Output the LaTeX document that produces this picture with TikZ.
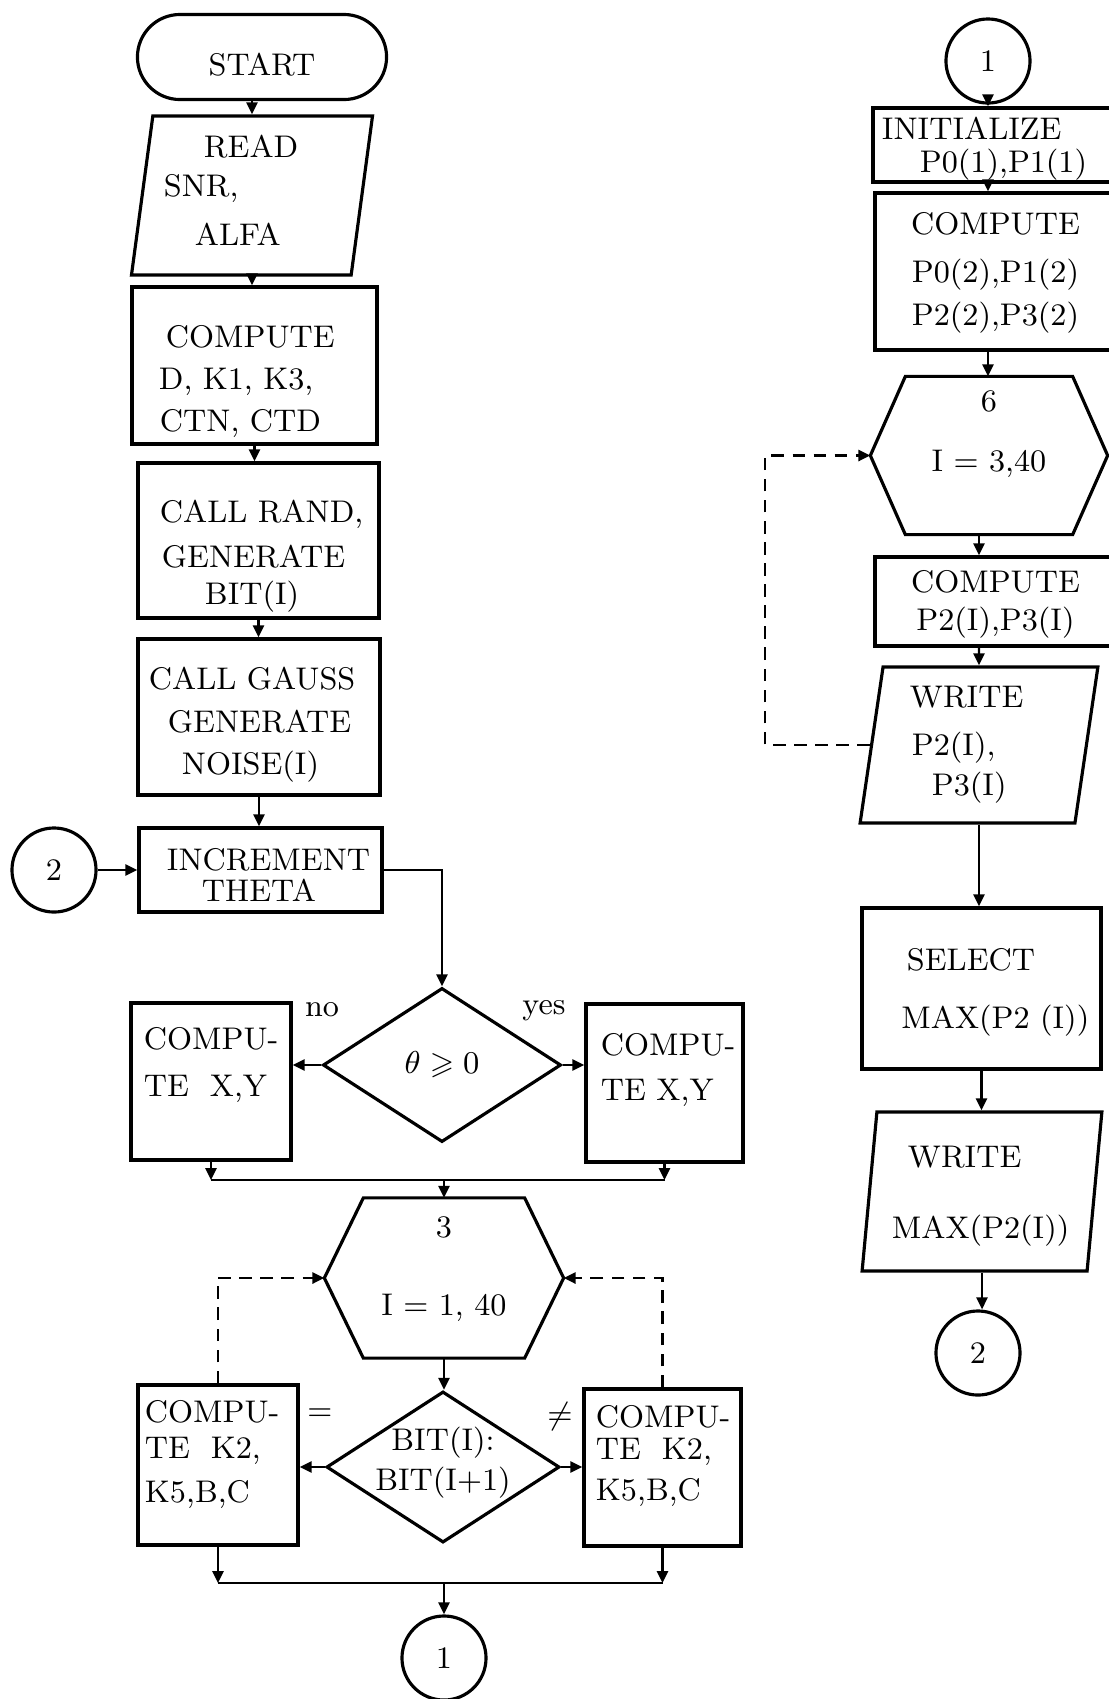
\documentclass[tikz,border=0pt]{standalone}
\usepackage{amssymb}
\usepackage{fontspec}
\usetikzlibrary{arrows.meta, positioning, shapes.geometric, shapes.misc, calc}

\tikzset{
  frame/.style={line width=0.9pt},
  box/.style={frame, draw, rectangle, inner sep=0pt, font=\fontsize{8.9}{12}\selectfont},
  term/.style={box, rounded rectangle},
  iobox/.style={box, trapezium, trapezium left angle=75.5, trapezium right angle=104.5, trapezium stretches=true},
  loopbox/.style={box, draw=none},
  decide/.style={box, diamond, shape aspect=1.54},
  conn/.style={box, circle, minimum size=0.84cm},
  lbl/.style={inner sep=0pt, font=\fontsize{8.9}{12}\selectfont},
  lift/.style={text height=0pt, text depth=#1},
  drop/.style={text depth=0pt, text height=#1},
  line/.style={line width=0.7pt},
  arr/.style={line width=0.7pt, -{Triangle[length=1.2mm,width=1.1mm]}},
  loopline/.style={line width=0.8pt, dash pattern=on 3.6pt off 2.4pt, -{Triangle[length=1.2mm,width=1.1mm]}}
}

% hexagonal loop symbol drawn round a plain node
\newcommand{\hexframe}[2]{%
  \draw[frame] ($(#1.north west)+(#2,0)$) -- ($(#1.north east)+(-#2,0)$) -- (#1.east)
    -- ($(#1.south east)+(-#2,0)$) -- ($(#1.south west)+(#2,0)$) -- (#1.west) -- cycle;}

\begin{document}
\begin{tikzpicture}[x=0.01cm, y=-0.01cm]
    \useasboundingbox (0,0) rectangle (1108,1699);

    % --- Left column: set-up ---
    \node[term, minimum width=2.49cm, minimum height=0.85cm, drop=0.36cm] (start) at (262,57) {START};
    \node[iobox, minimum width=2.42cm, minimum height=1.59cm, text width=1.8cm, align=left, lift=0.75cm] (readin) at (252,195.5)
        {\hspace*{0.42cm}READ\\[-1pt]\hspace*{0.02cm}SNR,\\[2pt]\hspace*{0.33cm}ALFA};
    \node[box, minimum width=2.45cm, minimum height=1.57cm, text width=2.3cm, align=left, lift=0.37cm] (setup) at (254.5,365.5)
        {\hspace*{0.265cm}COMPUTE\\\hspace*{0.195cm}D, K1, K3,\\\hspace*{0.205cm}CTN, CTD};
    \node[box, minimum width=2.41cm, minimum height=1.55cm, text width=2.2cm, align=left, lift=0.37cm] (randbit) at (258.5,540.5)
        {\hspace*{0.115cm}CALL RAND,\\[1pt]\hspace*{0.135cm}GENERATE\\[-1.5pt]\hspace*{0.565cm}BIT(I)};
    \node[box, minimum width=2.42cm, minimum height=1.56cm, text width=2.2cm, align=left, lift=0.54cm] (noise) at (259,717)
        {CALL GAUSS\\\hspace*{0.19cm}GENERATE\\\hspace*{0.33cm}NOISE(I)};
    \node[box, minimum width=2.43cm, minimum height=0.84cm, text width=2.2cm, align=left, lift=0pt] (incr) at (260.5,870)
        {\hspace*{0.165cm}INCREMENT\\[-3pt]\hspace*{0.515cm}THETA};
    \node[conn] (in2) at (54,870) {2};

    % --- Sign of theta ---
    \node[decide, minimum width=2.38cm, minimum height=1.54cm] (test1) at (442,1065) {$\theta \geqslant 0$};
    \node[box, minimum width=1.60cm, minimum height=1.57cm, text width=1.5cm, align=left, lift=0.63cm] (xyneg) at (211,1081.5)
        {\hspace*{0.08cm}COMPU-\\[1.3pt]\hspace*{0.08cm}TE~~X,Y};
    \node[box, minimum width=1.57cm, minimum height=1.58cm, text width=1.5cm, align=left, lift=0.56cm] (xypos) at (664.5,1083)
        {\hspace*{0.115cm}COMPU-\\[1pt]\hspace*{0.115cm}TE X,Y};
    \node[lbl] (no) at (322,1010) {no};
    \node[lbl] (yes) at (544,1011) {yes};
    \coordinate (join1) at (444,1180);

    % --- Loop 3 ---
    \node[loopbox, minimum width=2.36cm, minimum height=1.57cm, text width=2cm, align=center, lift=0.8cm] (loopa) at (444,1278)
        {3\\[10pt]I = 1, 40};
    \hexframe{loopa}{39}
    \node[decide, minimum width=2.33cm, minimum height=1.51cm, text width=1.4cm, align=center, lift=0.34cm] (test2) at (443,1467)
        {BIT(I):\\[-0.6pt]BIT(I+1)};
    \node[box, minimum width=1.60cm, minimum height=1.60cm, text width=1.5cm, align=left, lift=0.84cm] (kequal) at (218,1465)
        {\hspace*{0.02cm}COMPU-\\[-2pt]\hspace*{0.02cm}TE~~K2,\\[0.5pt]\hspace*{0.02cm}K5,B,C};
    \node[box, minimum width=1.57cm, minimum height=1.57cm, text width=1.5cm, align=left, lift=0.79cm] (kdiff) at (662.5,1467.5)
        {\hspace*{0.085cm}COMPU-\\[-3pt]\hspace*{0.085cm}TE~~K2,\\[-0.5pt]\hspace*{0.085cm}K5,B,C};
    \node[lbl] (eq) at (320,1415) {=};
    \node[lbl] (ne) at (560,1417) {$\neq$};
    \coordinate (join2) at (444,1583);
    \node[conn] (out1) at (444,1658) {1};

    % --- Right column ---
    \node[conn] (in1) at (988,61) {1};
    \node[box, minimum width=2.43cm, minimum height=0.74cm, text width=2.3cm, align=left, lift=0.12cm] (init) at (994.5,145)
        {\hspace*{0.025cm}INITIALIZE\\[-2.5pt]\hspace*{0.405cm}P0(1),P1(1)};
    \node[box, minimum width=2.41cm, minimum height=1.57cm, text width=2.3cm, align=center, lift=0.73cm] (comp2) at (995.5,271.5)
        {COMPUTE\\[1.6pt]P0(2),P1(2)\\P2(2),P3(2)};
    \node[loopbox, minimum width=2.34cm, minimum height=1.55cm, text width=2cm, align=center, lift=0.87cm] (loopb) at (989,455.5)
        {6\\[5pt]I = 3,40};
    \hexframe{loopb}{35}
    \node[box, minimum width=2.41cm, minimum height=0.89cm, text width=2.3cm, align=center, lift=0.19cm] (comp3) at (995.5,601.5)
        {COMPUTE\\[-1pt]P2(I),P3(I)};
    \node[iobox, minimum width=2.38cm, minimum height=1.56cm, text width=1.6cm, align=left, lift=0.74cm] (writep) at (979,745)
        {\hspace*{0.11cm}WRITE\\[1.4pt]\hspace*{0.13cm}P2(I),\\[-0.6pt]\hspace*{0.33cm}P3(I)};
    \node[box, minimum width=2.39cm, minimum height=1.61cm, text width=2.2cm, align=left, lift=0.37cm] (select) at (981.5,988.5)
        {\hspace*{0.355cm}SELECT\\[4.5pt]\hspace*{0.3cm}MAX(P2~(I))};
    \node[iobox, minimum width=2.40cm, minimum height=1.59cm, text width=1.8cm, align=left, lift=0.49cm] (writemax) at (982,1191.5)
        {\hspace*{0.16cm}WRITE\\[8.2pt]MAX(P2(I))};
    \node[conn] (out2) at (978,1353) {2};
    \coordinate (back6) at (765,745);

    % --- Connectors, left ---
    \draw[arr] (readin.north |- start.south) -- (readin.north);
    \foreach \a/\b in {readin/setup, setup/randbit, randbit/noise, noise/incr}
        \draw[arr] (\a.south) -- (\a.south |- \b.north);
    \draw[arr] (in2) -- (incr);
    \draw[arr] (incr.east) -| (test1.north);
    \draw[arr] (test1.west) -- (test1.west -| xyneg.east);
    \draw[arr] (test1.east) -- (test1.east -| xypos.west);
    \draw[arr] (xyneg.south) -- (xyneg.south |- join1);
    \draw[arr] (xypos.south) -- (xypos.south |- join1);
    \draw[line] (xyneg.south |- join1) -- (xypos.south |- join1);
    \draw[arr] (join1) -- (loopa.north);
    \draw[arr] (loopa.south) -- (loopa.south |- test2.north);
    \draw[arr] (test2.west) -- (test2.west -| kequal.east);
    \draw[arr] (test2.east) -- (test2.east -| kdiff.west);
    \draw[loopline] (kequal.north) |- (loopa.west);
    \draw[loopline] (kdiff.north) |- (loopa.east);
    \draw[arr] (kequal.south) -- (kequal.south |- join2);
    \draw[arr] (kdiff.south) -- (kdiff.south |- join2);
    \draw[line] (kequal.south |- join2) -- (kdiff.south |- join2);
    \draw[arr] (join2) -- (out1);

    % --- Connectors, right ---
    \foreach \a/\b in {in1/init, init/comp2, comp2/loopb}
        \draw[arr] (\a.south -| in1) -- (\b.north -| in1);
    \draw[arr] (loopb.south -| writep) -- (comp3.north -| writep);
    \draw[arr] (comp3.south -| writep) -- (writep.north);
    \foreach \a/\b in {writep/select, select/writemax, writemax/out2}
        \draw[arr] (\a.south) -- (\a.south |- \b.north);
    \draw[loopline] (writep.west) -- (writep.west -| back6) |- (loopb.west);
\end{tikzpicture}
\end{document}
